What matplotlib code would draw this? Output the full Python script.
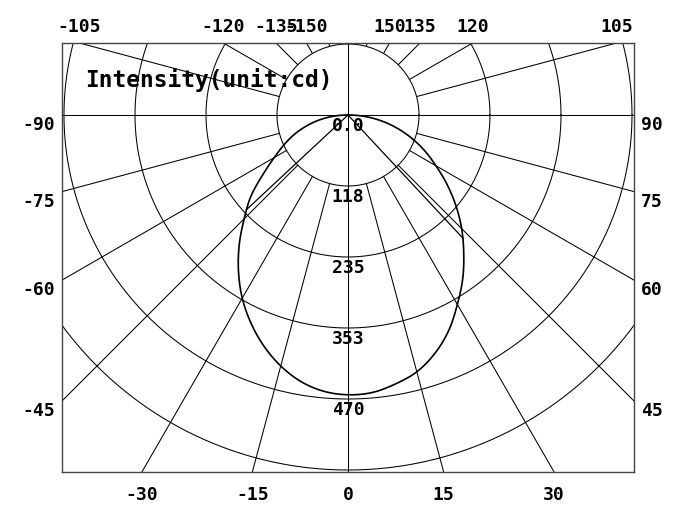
import numpy as np
import matplotlib
matplotlib.use("Agg")
from matplotlib import pyplot as plt

# intensity curve (cd) vs gamma angle (deg), 0 = straight down
gamma = [-90, -85, -80, -75, -70, -65, -60, -55, -50, -45, -40, -35, -30, -25, -20, -15, -10, -5,
         0, 5, 10, 15, 20, 25, 30, 35, 40, 45, 50, 55, 60, 65, 70, 75, 80, 85, 90]
intensity = [0, 25, 49, 72, 95, 117, 141, 172, 210, 243, 280, 316, 350, 380, 407, 430, 448, 459,
             463, 461, 452, 440, 420, 394, 362, 331, 298, 266, 233, 200, 168, 140, 112, 84, 56, 28, 0]

# straight spokes from the centre to the curve
spoke_gamma = [-47, 43]
spoke_value = [230, 280]

ring_values = [117.5, 235, 352.5, 470, 587.5]
ring_labels = ["0.0", "118", "235", "353", "470"]
label_angles = list(range(-150, 151, 15))

xmin, xmax, ymin, ymax = -473.3, 473.3, -590.8, 119.1
px = 0.6043  # pixels per cd

font = dict(family="DejaVu Sans Mono", fontweight="bold")

fig = plt.figure(figsize=(6.81, 5.32), dpi=100)
ax = fig.add_axes([62/681, 60/532, 572/681, 429/532])
ax.set_xlim(xmin, xmax)
ax.set_ylim(ymin, ymax)
ax.set_xticks([])
ax.set_yticks([])
for s in ax.spines.values():
    s.set_color("#444444")
    s.set_linewidth(1.0)

def xy(g, r):
    g = np.radians(np.asarray(g, dtype=float))
    r = np.asarray(r, dtype=float)
    return r*np.sin(g), -r*np.cos(g)

def smooth(xs, ys, n=12):
    # catmull-rom through the points, only for drawing
    xs = np.asarray(xs, float); ys = np.asarray(ys, float)
    px_ = np.concatenate([[2*xs[0]-xs[1]], xs, [2*xs[-1]-xs[-2]]])
    py_ = np.concatenate([[2*ys[0]-ys[1]], ys, [2*ys[-1]-ys[-2]]])
    ox, oy = [], []
    u = np.linspace(0, 1, n, endpoint=False)
    for i in range(1, len(px_)-2):
        for arr, out in ((px_, ox), (py_, oy)):
            p0, p1, p2, p3 = arr[i-1:i+3]
            out.extend(0.5*((2*p1) + (-p0+p2)*u + (2*p0-5*p1+4*p2-p3)*u**2 + (-p0+3*p1-3*p2+p3)*u**3))
    ox.append(xs[-1]); oy.append(ys[-1])
    return np.array(ox), np.array(oy)

# rings
t = np.linspace(0, 2*np.pi, 721)
for rv in ring_values:
    ax.plot(rv*np.cos(t), rv*np.sin(t), color="k", lw=0.75)

# radial lines
for a in range(-165, 181, 15):
    r0 = 0 if a % 90 == 0 else ring_values[0]
    x, y = xy([a, a], [r0, 2000])
    ax.plot(x, y, color="k", lw=0.75)

# intensity curve + spokes
g_s, i_s = smooth(gamma, intensity)
x, y = xy(g_s, i_s)
ax.plot(x, y, color="k", lw=1.2)
for g, v in zip(spoke_gamma, spoke_value):
    x, y = xy([g, g], [0, v])
    ax.plot(x, y, color="k", lw=0.9)

# ring value labels
for i, lab in enumerate(ring_labels):
    r = i*117.5 + 11/px
    ax.text(0, -r, lab, ha="center", va="center", fontsize=13, **font)

# angle labels on the frame
for a in label_angles:
    g = np.radians(a)
    dx, dy = np.sin(g), -np.cos(g)
    cands = []
    if dx > 1e-9: cands.append((xmax/dx, "R"))
    if dx < -1e-9: cands.append((xmin/dx, "L"))
    if dy > 1e-9: cands.append((ymax/dy, "T"))
    if dy < -1e-9: cands.append((ymin/dy, "B"))
    tt, side = min(cands)
    ix, iy = tt*dx, tt*dy
    lab = str(a)
    if side == "L":
        ax.text(xmin - 7/px, iy - 10/px, lab, ha="right", va="center", fontsize=13, clip_on=False, **font)
    elif side == "R":
        ax.text(xmax + 7/px, iy - 10/px, lab, ha="left", va="center", fontsize=13, clip_on=False, **font)
    elif side == "T":
        ax.text(ix, ymax + 7/px, lab, ha="center", va="bottom", fontsize=13, clip_on=False, **font)
    else:
        ax.text(ix, ymin - 23/px, lab, ha="center", va="center", fontsize=13, clip_on=False, **font)

ax.text(xmin + 23/px, ymax - 37/px, "Intensity(unit:cd)", ha="left", va="center", fontsize=16.5, **font)

fig.savefig("out.png", dpi=100)
